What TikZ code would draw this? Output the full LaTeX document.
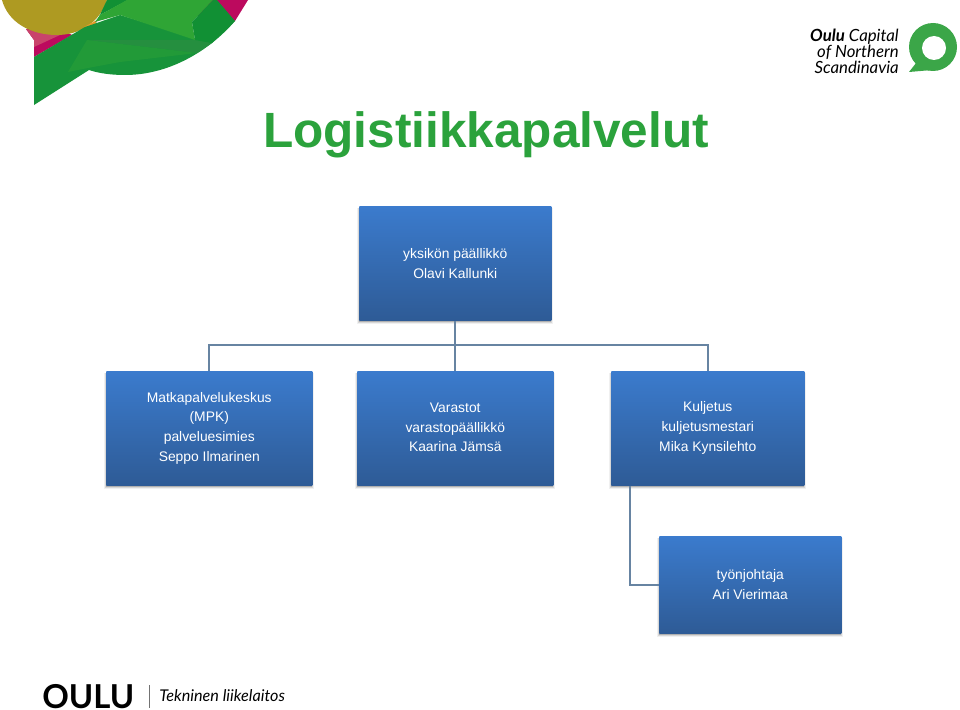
\documentclass[tikz,border=0pt]{standalone}
\usepackage{fontspec}
\setmainfont{Liberation Sans}
\newfontfamily\logofont{Lato}
\usetikzlibrary{calc}
\definecolor{boxtop}{HTML}{3B7BCD}
\definecolor{boxbot}{HTML}{2E5B96}
\definecolor{linkc}{HTML}{6784A2}
\definecolor{titleg}{HTML}{2BA23C}
\definecolor{gA}{HTML}{17933A}
\definecolor{gB}{HTML}{2FA535}
\definecolor{gC}{HTML}{258F3F}
\definecolor{gD}{HTML}{229A38}
\definecolor{gE}{HTML}{119034}
\definecolor{oliveL}{HTML}{AE9A22}
\definecolor{magA}{HTML}{BC0A5E}
\definecolor{pinkA}{HTML}{C9446B}
\definecolor{orgA}{HTML}{E59B2B}
\definecolor{ringg}{HTML}{3BA648}
\tikzset{
  orgbox/.style={draw=none,top color=boxtop,bottom color=boxbot,text=white,align=center,
    font=\fontsize{10.4pt}{14.9pt}\selectfont,inner sep=0pt,anchor=north west},
  link/.style={draw=linkc,line width=1.2pt},
  logotxt/.style={inner sep=0pt,text=black}
}
\newcommand{\shadowbox}[4]{%
  \fill[black,opacity=.06] (#1-2,#2+2) rectangle (#3+2,#4+4);
  \fill[black,opacity=.10] (#1-1,#2+2) rectangle (#3+1,#4+2.8);
  \fill[black,opacity=.18] (#1,#2+2) rectangle (#3,#4+1.6);
}
\begin{document}
\begin{tikzpicture}[x=0.75pt,y=-0.75pt]
\useasboundingbox (0,0) rectangle (960,710);
\fill[white] (0,0) rectangle (960,710);
% top-left logo
\begin{scope}
\clip (0,0) rectangle (260,110);
\fill[magA] (195,0) -- (248,0) -- (235,21) -- (200,30) -- cycle;
\fill[magA] (26,29) -- (34,40) -- (34,57) -- (72,35) -- (62,30) -- cycle;
\fill[pinkA] (26,29) -- (34,40) -- (34,47) -- (60,35) -- (45,32) -- cycle;
\fill[oliveL] (2,0) .. controls (8,22) and (30,35) .. (57,35)
  .. controls (80,35) and (100,22) .. (107,0) -- cycle;
\fill[orgA] (84,27) -- (97,20) -- (95,25) -- cycle;
\fill[gA] (34,105) -- (34,57) -- (85,27) -- (120,15) -- (195,38) -- (235,21)
  .. controls (210,50) and (170,75) .. (125,75)
  .. controls (110,75) and (98,73) .. (89,70) -- cycle;
\fill[gC] (87,40) -- (197,40) -- (212,43) -- (197,53) -- cycle;
\fill[gD] (68,72) -- (87,40) -- (197,53) -- (120,62) -- (88,68) -- cycle;
\fill[gE] (96,23) -- (107,0) -- (128,0) -- (100,15) -- cycle;
\fill[gB] (95,22) -- (100,15) -- (127,0) -- (213,0) -- (192,22) -- (195,40) -- (120,15) -- cycle;
\fill[gE] (192,22) -- (213,0) -- (217,0) -- (235,21) -- (212,43) -- (195,40) -- cycle;
\end{scope}
% top-right logo
\node[logotxt,align=right,anchor=east,font=\logofont\itshape\fontsize{12.6pt}{11.3pt}\selectfont] (capital) at (899,51)
  {{\bfseries Oulu} Capital\\of Northern\\Scandinavia};
\fill[ringg] (933,47) circle (24);
\fill[ringg] (920,58) -- (909,72) -- (932,70) -- cycle;
\fill[white] (934,48) circle (12);
% title
\node[inner sep=0pt,text=titleg,font=\bfseries\fontsize{37.15pt}{40pt}\selectfont] (title) at (486,135) {Logistiikkapalvelut};
% shadows
\shadowbox{359}{206}{551}{320}
\shadowbox{106}{371}{312}{485}
\shadowbox{357}{371}{553}{485}
\shadowbox{611}{371}{804}{485}
\shadowbox{659}{536}{841}{633}
% connectors
\coordinate (busl) at (209,345);
\coordinate (busr) at (707,345);
\coordinate (rdrop) at (630,485);
% boxes
\node[orgbox,minimum width=144pt,minimum height=85.5pt] (chief) at (359,206) {yksikön päällikkö\\Olavi Kallunki};
\node[orgbox,minimum width=154.5pt,minimum height=85.5pt] (matka) at (106,371) {Matkapalvelukeskus\\(MPK)\\palveluesimies\\Seppo Ilmarinen};
\node[orgbox,minimum width=147pt,minimum height=85.5pt] (varasto) at (357,371) {Varastot\\varastopäällikkö\\Kaarina Jämsä\rule[-1.5pt]{0pt}{0pt}};
\node[orgbox,minimum width=144.75pt,minimum height=85.5pt] (kulj) at (611,371) {Kuljetus\\kuljetusmestari\\Mika Kynsilehto};
\node[orgbox,minimum width=136.5pt,minimum height=72.75pt] (tyo) at (659,536) {työnjohtaja\\Ari Vierimaa};
\draw[link] (chief.south) -- (varasto.north);
\draw[link] (matka.north) -- (matka.north |- busl) -- (busr -| kulj.north) -- (kulj.north);
\draw[link] (rdrop |- kulj.south) -- (rdrop |- tyo.west) -- (tyo.west);
% bottom logo
\node[logotxt,anchor=west,font=\logofont\bfseries\fontsize{24.7pt}{26pt}\selectfont] (oulu) at (42,696.5) {OULU};
\coordinate (sepa) at (149,685);
\coordinate (sepb) at (149,708);
\draw[draw=black!55,line width=.6pt] (sepa) -- (sepb);
\node[logotxt,anchor=west,font=\logofont\itshape\fontsize{12.15pt}{13pt}\selectfont] (tek) at (159,696) {Tekninen liikelaitos};
\end{tikzpicture}
\end{document}
